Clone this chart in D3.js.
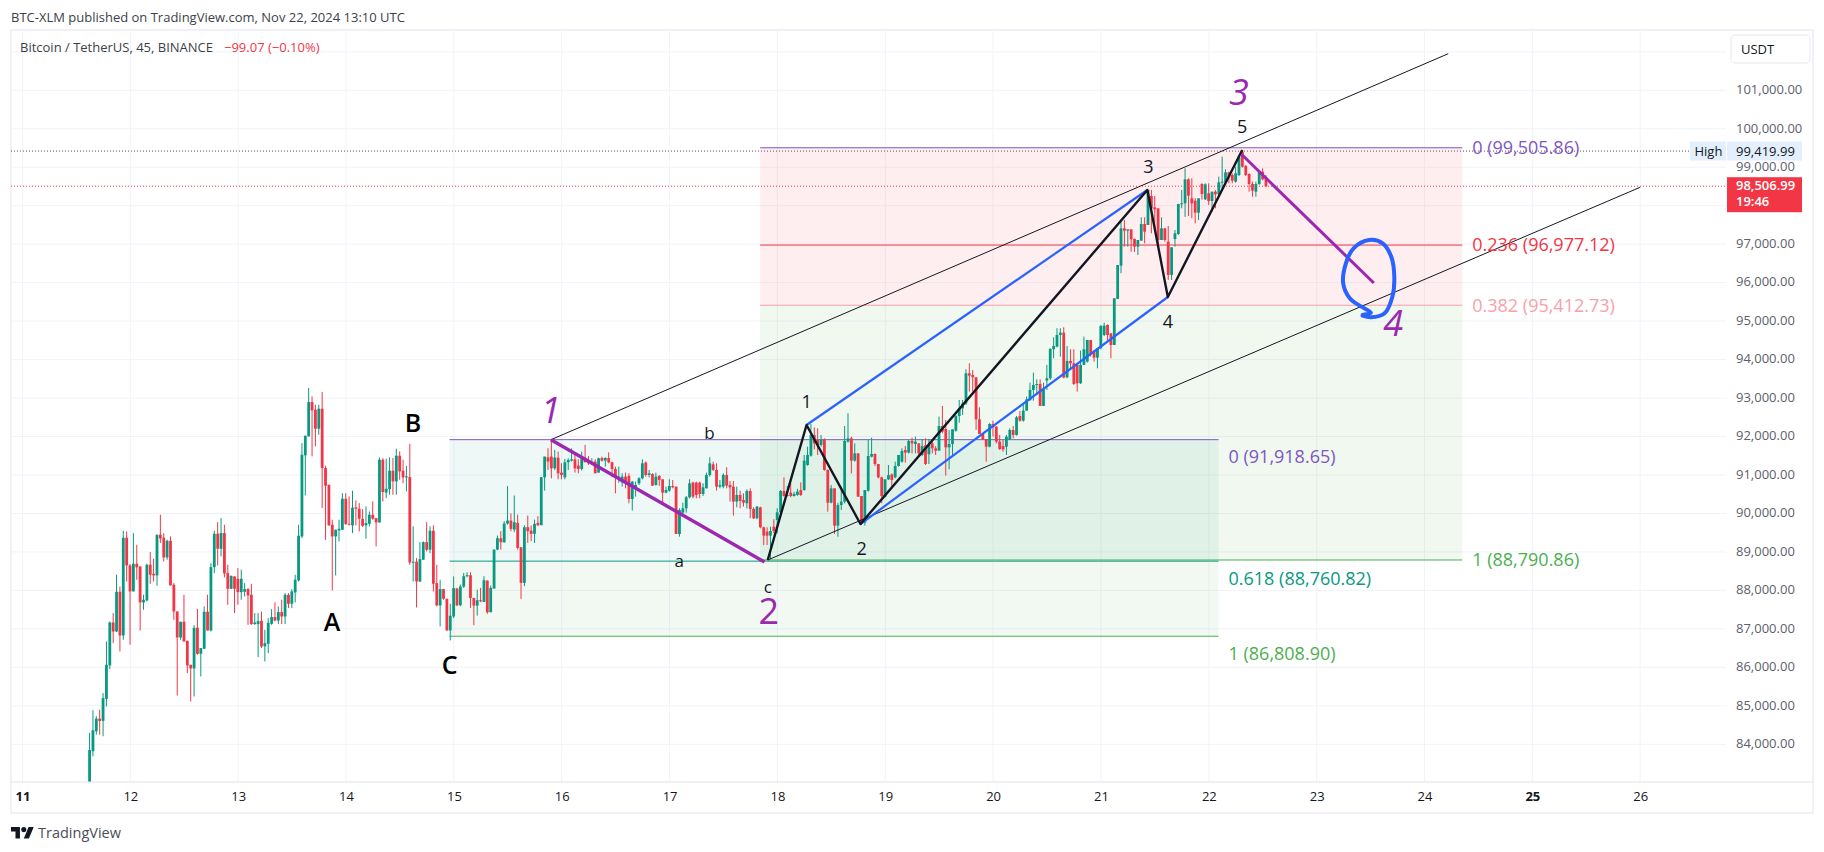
<!DOCTYPE html>
<html>
<head>
<meta charset="utf-8">
<script src="https://cdn.jsdelivr.net/npm/d3@7"></script>
<style>
  html, body { margin: 0; padding: 0; background: #fff; }
  text { font-family: "Open Sans", sans-serif; }
</style>
</head>
<body>
<svg id="chart" width="1824" height="852"></svg>
<script>
const candles = [
  [83000,84300,82900,83850],[83820,84885,83690,84365],[84339,84730,84250,84668],[84668,84897,84250,84607],
  [84610,85330,84210,85200],[85183,86673,84983,86067],[86050,87193,85954,87167],[87167,87410,86630,86933],
  [86933,88407,86916,87965],[87965,88103,86413,86830],[86830,89551,86717,89369],[89369,89533,88233,88650],
  [88650,88684,86587,87974],[87974,89490,87974,88693],[88693,89187,88277,88598],[88624,88624,86959,87688],
  [87688,87887,87497,87757],[87740,88693,87713,88667],[88667,88996,88173,88407],[88433,88823,88233,88390],
  [88390,89447,88121,89447],[89447,89967,89230,89352],[89369,89490,88753,88858],[88858,89317,88797,89291],
  [89291,89404,88130,88130],[88147,88190,87237,87453],[87453,87453,85269,86777],[86777,87185,86717,87185],
  [87185,87887,86673,86673],[86691,86691,85850,86050],[86067,86067,85113,85972],[85972,87098,85243,87029],
  [87029,87523,86327,86353],[86353,86500,85763,86500],[86483,87584,86483,87445],[87445,87887,86959,86959],
  [86959,88710,86933,88606],[88606,89551,88450,89473],[89473,89776,88650,89083],[89083,89880,88884,89490],
  [89490,89707,88338,88441],[88450,88667,87627,88043],[88043,88381,88034,88381],[88364,88364,87410,88043],
  [88303,88580,87627,87956],[87956,88537,87757,88303],[87965,88190,87843,88034],[88034,88060,87107,87870],
  [87887,88173,87107,87124],[87124,87410,87107,87167],[87124,87410,86266,87202],[87211,87453,86500,86544],
  [86544,86977,86153,86630],[86613,87280,86370,87159],[87133,87514,87107,87306],[87306,87688,87193,87219],
  [87219,87584,87124,87436],[87436,87757,87124,87323],[87323,87930,87124,87887],[87887,87930,87540,87653],
  [87653,88034,87540,87974],[87947,88407,87687,88277],[88260,89707,88233,89421],[89404,91830,89360,91527],
  [91510,92021,90470,92021],[92004,93260,92004,92896],[92896,93044,91484,92680],[92697,92827,91744,92203],
  [92203,92827,92047,92723],[92723,93156,90140,91180],[91180,91241,89317,90721],[90747,90747,89690,89690],
  [89707,89837,88000,89404],[89404,89577,88390,89577],[89560,89837,89273,89603],[89577,90530,89577,90383],
  [90383,90530,89707,89724],[89733,90444,89690,89715],[89690,90591,89490,90149],[90158,90340,89690,90123],
  [90123,90270,89534,89863],[89863,90114,89646,89681],[89690,90184,89343,89750],[89733,90054,89664,89967],
  [89967,90314,89837,89863],[89880,89880,89143,89767],[89767,91458,89767,91397],[91397,91440,90314,90556],
  [90547,91423,90400,90643],[90634,91458,90487,91111],[91111,91440,90487,90834],[90834,91683,90487,91501],
  [91501,91614,90877,91094],[91111,91397,90790,90938],[90938,91241,90574,90964],[90946,91813,88667,88728],
  [88728,89664,88233,88745],[88745,88840,87557,88233],[88233,89256,88216,88814],[88797,89273,88797,89256],
  [89256,89776,89014,89057],[89057,89664,88970,89551],[89551,89690,87974,88173],[88190,88667,87584,87610],
  [87610,88277,87064,88034],[88034,88034,87757,87783],[87783,87783,86959,86959],[86959,87653,86700,87341],
  [87323,88364,87280,88060],[88048,88066,87590,87615],[87615,88152,87590,88100],[88100,88456,88065,88369],
  [88369,88473,88340,88395],[88395,88473,87546,87805],[87805,87805,87095,87606],[87606,88022,87346,87745],
  [87745,88066,87693,87727],[87701,88369,87701,88265],[88256,88256,87390,87433],[87433,88126,87433,88066],
  [88048,89062,88048,89062],[89062,89426,89045,89357],[89357,89539,89062,89253],[89253,89799,89235,89738],
  [89738,90709,89712,89816],[89816,90000,89539,89600],[89582,90466,89513,89773],[89756,89972,89062,89106],
  [89123,89123,87779,88196],[88196,89695,88109,89643],[89643,89946,89235,89539],[89556,89686,89279,89470],
  [89470,89842,89235,89730],[89756,89929,89669,89695],[89695,90943,89695,90943],[90940,91478,90594,91478],
  [91460,91694,91131,91348],[91478,91911,90914,91174],[91174,91651,91131,91452],[91452,91608,90888,91044],
  [91062,91304,90888,91001],[90940,91417,90888,91330],[91330,91434,91131,91391],[91374,91694,91348,91408],
  [91408,91590,91062,91174],[91244,91408,91044,91157],[91157,91608,91114,91434],[91452,91781,91330,91330],
  [91391,91495,91261,91304],[91322,91434,91261,91348],[91348,91408,91044,91044],[91062,91452,91062,91434],
  [91443,91478,91348,91374],[91374,91460,91218,91443],[91443,91590,91304,91330],[91330,91348,90940,91157],
  [91157,91218,90524,90932],[90932,91218,90802,90958],[90810,91044,90698,90958],[90958,91062,90654,90802],
  [90975,91044,90264,90377],[90377,90845,90074,90828],[90654,90828,90438,90741],[90784,90940,90741,90914],
  [90914,91408,90888,91304],[91322,91348,90958,91001],[91001,91131,90940,91044],[91027,91044,90715,90724],
  [90741,91062,90724,90958],[90975,91001,90715,90871],[90888,90888,90282,90542],[90542,90698,90524,90611],
  [90594,90888,90568,90715],[90715,90871,90654,90680],[90698,90698,89467,89467],[89467,90134,89398,90091],
  [90022,90282,89918,90134],[90134,90455,90022,90420],[90420,90888,90394,90784],[90802,90828,90394,90438],
  [90802,90828,90394,90481],[90802,90828,90394,90507],[90507,90784,90455,90680],[90654,91062,90654,91001],
  [91001,91460,90958,91304],[91278,91348,91105,91131],[91131,91304,90594,90698],[90698,90871,90654,90741],
  [90698,91044,90654,91001],[91001,91200,90654,90724],[90741,90845,90308,90680],[90698,90845,89944,90308],
  [90308,90698,90160,90481],[90481,90594,90134,90325],[90351,90524,90178,90282],[90264,90628,90134,90585],
  [90585,90654,89874,90117],[90117,90160,89857,89874],[89874,90195,89848,90178],[90160,90178,89614,89640],
  [89640,89657,89181,89424],[89528,89640,89181,89424],[89424,89657,88817,89545],[89657,89848,89484,89545],
  [89831,90134,89484,90030],[90030,90611,89918,90585],[90585,90940,90438,90455],[90455,90715,90440,90481],
  [90542,90784,90420,90455],[90455,90560,90440,90507],[90481,90640,90460,90568],[90611,90810,90455,90481],
  [90610,91520,90590,91373],[91260,91737,91240,91520],[91503,92326,91477,92040],[92040,92239,91667,91823],
  [91910,92213,91520,91780],[91780,92040,91737,91927],[91927,91953,91113,91130],[91130,91147,90047,90280],
  [90280,90740,90263,90653],[90653,90653,89466,89683],[89683,90280,89397,90220],[90220,90697,90090,90307],
  [90307,92274,90263,91884],[91867,92603,91841,91953],[91953,91997,91043,91373],[91373,91823,91347,91563],
  [91563,91563,90437,90437],[90454,90454,89700,89760],[89760,90610,89683,90610],[90593,91910,90567,91494],
  [91477,91970,91459,91546],[91546,91563,91234,91286],[91286,91286,90913,90939],[90939,90957,90263,90454],
  [90437,90887,90419,90887],[90887,91260,90870,90997],[91017,91043,90653,90870],[90939,91347,90913,91234],
  [91234,91520,91217,91520],[91347,91693,91321,91624],[91650,91754,91321,91581],[91581,91910,91563,91884],
  [91884,91970,91563,91823],[91806,91997,91563,91867],[91823,91823,91520,91563],[91520,91936,91493,91754],
  [91771,91953,91260,91286],[91537,91936,91286,91780],[91823,91867,91563,91693],[91693,91754,91520,91632],
  [91632,92517,91632,92274],[92274,92794,92083,92127],[92196,92430,90983,91719],[91719,92170,91147,91806],
  [91806,92187,91520,92187],[92153,92560,92127,92534],[92534,92950,92361,92733],[92733,92950,92560,92863],
  [92863,93747,92820,93643],[93643,93903,93167,93583],[93600,93730,93167,93539],[93539,93539,92170,92447],
  [92447,92759,92066,92066],[92066,92080,91910,91927],[91927,91940,91347,91737],[91737,92343,91719,92326],
  [92326,92413,92000,92239],[92257,92270,91823,91867],[91867,92040,91650,91676],[91754,91910,91607,91667],
  [91737,92040,91520,91997],[91927,92213,91910,92170],[92170,92274,91953,92040],[92040,92534,92023,92499],
  [92534,92664,92387,92413],[92413,92820,92387,92673],[92673,93037,92673,92967],[92950,93401,92924,93210],
  [93210,93661,92933,93340],[93340,93487,93080,93366],[93367,93487,92795,92795],[92795,93400,92794,93228],
  [93453,93861,93211,93514],[93514,94294,93471,94277],[94268,94580,94034,94354],[94337,94814,94320,94640],
  [94640,94814,94077,94701],[94701,94840,93514,93532],[93540,94354,93514,93965],[93965,94268,93731,93904],
  [93904,94268,93341,93367],[93861,93861,93168,93384],[93384,94233,93367,93861],[93861,94597,93861,94268],
  [93947,94510,93921,94510],[94510,94510,94080,94147],[94207,94251,93947,94051],[94051,94294,93774,94294],
  [94294,94900,94270,94874],[94640,94961,94614,94883],[94900,94915,94510,94640],[94684,94684,94034,94380],
  [94380,95593,94380,95593],[95576,96459,95576,96459],[96442,97646,96243,97412],[97412,97629,96936,97352],
  [97352,97386,96936,97386],[97386,97386,96806,97126],[97135,97150,96800,96936],[96936,97109,96719,97109],
  [97092,97698,97092,97525],[97525,97698,97022,97326],[97499,98409,97499,98409],[98253,98409,97282,97932],
  [97958,98253,97369,97906],[97932,97932,96936,97109],[97109,97698,97109,97412],[97412,97412,97066,97109],
  [97066,97473,96070,96200],[96200,96919,96070,96919],[97135,97369,96936,97282],[97265,98045,97240,98045],
  [98036,98409,97932,98062],[98062,98972,97710,98686],[98686,98712,97733,98261],[98192,98712,97672,98062],
  [98131,98192,97542,97819],[97819,98192,97629,98192],[98564,98582,98160,98305],[98166,98582,98149,98556],
  [98322,98582,98019,98123],[98123,98365,97845,98365],[98365,98408,97932,98296],[98296,98755,98280,98608],
  [98608,99275,98452,98625],[98608,98946,98600,98868],[98868,98885,98582,98755],[98798,98842,98582,98650],
  [98625,99015,98600,98842],[98798,99318,98770,99275],[99405,99420,98990,99015],[99032,99058,98770,98798],
  [98824,98842,98365,98564],[98564,98625,98235,98391],[98365,98625,98235,98564],[98564,98928,98540,98885],
  [98885,98972,98660,98686],[98738,98798,98480,98507]
];
const firstBarDay = 11.622;
const lastBarDay = 22.53;

const dayTicks = [11, 12, 13, 14, 15, 16, 17, 18, 19, 20, 21, 22, 23, 24, 25, 26];
const boldDays = [11, 25];
// 98,000 sits behind the last price tag, so it only gets a grid line
const priceTicks = [84000, 85000, 86000, 87000, 88000, 89000, 90000, 91000, 92000, 93000, 94000, 95000, 96000, 97000, 99000, 100000, 101000];
const priceGrid = priceTicks.concat([98000, 102000]);

const highPrice = 99419.99;
const lastPrice = 98506.99;
const countdown = '19:46';

// drawn lines: [day, price] anchors
const channelTop = [[15.90, 91918], [24.22, 101951]];
const channelBottom = [[17.91, 88790], [26.0, 98479]];
const waveDown = [[15.90, 91918], [17.88, 88740]];
const waveNext = [[22.30, 99344], [23.53, 95991]];
const impulse = [[17.91, 88790], [18.27, 92300], [18.77, 89726], [21.43, 98408], [21.62, 95627], [22.31, 99448]];
const blueTop = [[18.27, 92300], [21.43, 98408]];
const blueBottom = [[18.77, 89726], [21.62, 95627]];
const targetLoop = [[23.426, 95159], [23.503, 95219], [23.415, 95375], [23.307, 95593], [23.246, 95983], [23.271, 96503],
  [23.342, 96893], [23.487, 97109], [23.612, 97023], [23.692, 96675], [23.72, 96155], [23.702, 95635], [23.63, 95203], [23.503, 95099], [23.426, 95141]];

// fib retracements
const fibLeftDays = [14.96, 22.09];
const fibLeft = [
  { level: '0', price: 91918.65, color: '#7e57c2' },
  { level: '0.618', price: 88760.82, color: '#089981' },
  { level: '1', price: 86808.90, color: '#4caf50' }
];
const fibRightDays = [17.84, 24.35];
const fibRight = [
  { level: '0', price: 99505.86, color: '#7e57c2' },
  { level: '0.236', price: 96977.12, color: '#f23645' },
  { level: '0.382', price: 95412.73, color: '#f7a1a8' },
  { level: '1', price: 88790.86, color: '#4caf50' }
];

const waveLabels = [['1', 15.897, 92690, true], ['2', 17.92, 87470, false], ['3', 22.28, 100955, true], ['4', 23.71, 94944, true]];
const abcLabels = [['A', 13.87, 87190], ['B', 14.62, 92360], ['C', 14.96, 86065]];
const countLabels = [['1', 18.27, 92910], ['2', 18.78, 89080], ['3', 21.44, 99007], ['4', 21.62, 94986], ['5', 22.31, 100046]];
const smallLabels = [['a', 17.09, 88774], ['b', 17.37, 92093], ['c', 17.91, 88097]];

const plot = { left: 11, right: 1726, top: 30, bottom: 782 };
const green = '#089981', red = '#f23645', ink = '#131722';

const xScale = d3.scaleLinear().domain([11, 26]).range([22.5, 1640.2]);
const yScale = d3.scaleLinear().domain([84000, 101000]).range([744.3, 90.3]);
const fmt = d3.format(',.2f');

const svg = d3.select('#chart').attr('font-family', '"Open Sans", sans-serif');
svg.append('clipPath').attr('id', 'plot-clip').append('rect')
  .attr('x', plot.left).attr('y', plot.top)
  .attr('width', plot.right - plot.left).attr('height', plot.bottom - plot.top);

// header + frame
svg.append('text').attr('x', 11).attr('y', 22).attr('font-size', 13).attr('fill', '#3c3f49')
  .text('BTC-XLM published on TradingView.com, Nov 22, 2024 13:10 UTC');
svg.append('rect').attr('x', 11).attr('y', 30).attr('width', 1802).attr('height', 783)
  .attr('fill', 'none').attr('stroke', '#f0f0f6').attr('stroke-width', 2);

// grid
const grid = svg.append('g');
grid.selectAll('line.h').data(priceGrid).join('line').attr('class', 'h')
  .attr('x1', plot.left).attr('x2', plot.right)
  .attr('y1', d => yScale(d)).attr('y2', d => yScale(d))
  .attr('stroke', '#f0f3fa');
grid.selectAll('line.v').data(dayTicks).join('line').attr('class', 'v')
  .attr('x1', d => xScale(d)).attr('x2', d => xScale(d))
  .attr('y1', plot.top).attr('y2', plot.bottom)
  .attr('stroke', '#f0f3fa');

// fib fills and lines
function drawFib(levels, days, bands) {
  const g = svg.append('g');
  const x0 = xScale(days[0]), x1 = xScale(days[1]);
  d3.pairs(levels).forEach(([a, b], i) => {
    g.append('rect').attr('x', x0).attr('width', x1 - x0)
      .attr('y', yScale(a.price)).attr('height', yScale(b.price) - yScale(a.price))
      .attr('fill', bands[i]);
  });
  g.selectAll('line').data(levels).join('line')
    .attr('x1', x0).attr('x2', x1)
    .attr('y1', d => yScale(d.price)).attr('y2', d => yScale(d.price))
    .attr('stroke', d => d.color).attr('stroke-width', 1);
}
drawFib(fibLeft, fibLeftDays, ['rgba(8,153,129,0.07)', 'rgba(76,175,80,0.07)']);
drawFib(fibRight, fibRightDays, ['rgba(242,54,69,0.085)', 'rgba(242,54,69,0.085)', 'rgba(76,175,80,0.085)']);

// dotted price lines
svg.append('line').attr('x1', plot.left).attr('x2', 1690)
  .attr('y1', yScale(highPrice)).attr('y2', yScale(highPrice))
  .attr('stroke', '#555').attr('stroke-dasharray', '1 2');
svg.append('line').attr('x1', plot.left).attr('x2', plot.right)
  .attr('y1', yScale(lastPrice)).attr('y2', yScale(lastPrice))
  .attr('stroke', red).attr('stroke-dasharray', '1 2');

// candles
const barDay = d3.scaleLinear().domain([0, candles.length - 1]).range([firstBarDay, lastBarDay]);
const bars = svg.append('g').attr('clip-path', 'url(#plot-clip)');
bars.selectAll('line').data(candles).join('line')
  .attr('x1', (d, i) => xScale(barDay(i))).attr('x2', (d, i) => xScale(barDay(i)))
  .attr('y1', d => yScale(d[1])).attr('y2', d => yScale(d[2]))
  .attr('stroke', d => d[3] >= d[0] ? green : red);
bars.selectAll('rect').data(candles).join('rect')
  .attr('x', (d, i) => xScale(barDay(i)) - 1.4).attr('width', 2.8)
  .attr('y', d => yScale(Math.max(d[0], d[3])))
  .attr('height', d => Math.max(1, Math.abs(yScale(d[0]) - yScale(d[3]))))
  .attr('fill', d => d[3] >= d[0] ? green : red);

// trend lines + wave drawings
const line = d3.line().x(d => xScale(d[0])).y(d => yScale(d[1]));
function drawLine(points, color, width) {
  svg.append('path').attr('d', line(points)).attr('fill', 'none')
    .attr('stroke', color).attr('stroke-width', width).attr('stroke-linejoin', 'round');
}
drawLine(channelTop, '#131722', 1);
drawLine(channelBottom, '#131722', 1);
drawLine(blueTop, '#2962ff', 2.2);
drawLine(blueBottom, '#2962ff', 2.2);
drawLine(impulse, '#131722', 2.4);
drawLine(waveDown, '#9c27b0', 3.4);
drawLine(waveNext, '#9c27b0', 3);
svg.append('path').attr('d', d3.line().x(d => xScale(d[0])).y(d => yScale(d[1])).curve(d3.curveCatmullRom)(targetLoop))
  .attr('fill', 'none').attr('stroke', '#2962ff').attr('stroke-width', 4).attr('stroke-linecap', 'round');

// fib labels
svg.append('g').selectAll('text').data(fibRight).join('text')
  .attr('x', xScale(fibRightDays[1]) + 10).attr('y', d => yScale(d.price))
  .attr('dy', '0.35em').attr('font-size', 18).attr('fill', d => d.color)
  .text(d => `${d.level} (${fmt(d.price)})`);
// left fib text sits below its line
svg.append('g').selectAll('text').data(fibLeft).join('text')
  .attr('x', xScale(fibLeftDays[1]) + 10).attr('y', d => yScale(d.price) + 17.5)
  .attr('dy', '0.35em').attr('font-size', 18).attr('fill', d => d.color)
  .text(d => `${d.level} (${fmt(d.price)})`);

// annotations
function annotate(rows, size, color, weight) {
  svg.append('g').selectAll('text').data(rows).join('text')
    .attr('x', d => xScale(d[1])).attr('y', d => yScale(d[2]))
    .attr('text-anchor', 'middle').attr('dy', '0.36em')
    .attr('font-size', size).attr('font-weight', weight).attr('fill', color)
    .attr('font-style', d => d[3] ? 'italic' : 'normal')
    .text(d => d[0]);
}
annotate(waveLabels, 36, '#9c27b0', 400);
annotate(abcLabels, 25, '#000', 600);
annotate(countLabels, 18, ink, 400);
annotate(smallLabels, 17, ink, 400);

// axes
svg.append('line').attr('x1', plot.left).attr('x2', 1813).attr('y1', plot.bottom).attr('y2', plot.bottom).attr('stroke', '#e0e3eb');
const xAxis = d3.axisBottom(xScale).tickValues(dayTicks).tickSize(0).tickPadding(0).tickFormat(d3.format('d'));
const xg = svg.append('g').attr('transform', `translate(0, ${plot.bottom + 10})`).call(xAxis);
xg.select('.domain').remove();
xg.selectAll('text').attr('font-size', 13).attr('font-family', '"Open Sans", sans-serif').attr('fill', ink)
  .attr('font-weight', d => boldDays.includes(d) ? 700 : 400);

const yAxis = d3.axisRight(yScale).tickValues(priceTicks).tickSize(0).tickPadding(0).tickFormat(fmt);
const yg = svg.append('g').attr('transform', 'translate(1736, 0)').call(yAxis);
yg.select('.domain').remove();
yg.selectAll('text').attr('font-size', 13).attr('font-family', '"Open Sans", sans-serif').attr('fill', '#5d606b').attr('dy', '0.25em');

// price tags
const highY = yScale(highPrice);
svg.append('rect').attr('x', 1690).attr('y', highY - 9.5).attr('width', 36).attr('height', 19).attr('fill', '#e3effd');
svg.append('rect').attr('x', 1727).attr('y', highY - 9.5).attr('width', 75).attr('height', 19).attr('fill', '#e3effd');
svg.append('text').attr('x', 1694.5).attr('y', highY).attr('dy', '0.35em').attr('font-size', 13).attr('fill', ink).text('High');
svg.append('text').attr('x', 1736).attr('y', highY).attr('dy', '0.35em').attr('font-size', 13).attr('fill', ink).text(fmt(highPrice));

const lastY = yScale(lastPrice);
svg.append('rect').attr('x', 1727).attr('y', lastY - 9).attr('width', 75).attr('height', 35).attr('fill', red);
svg.append('text').attr('x', 1736).attr('y', lastY - 1).attr('dy', '0.35em').attr('font-size', 13).attr('font-weight', 600).attr('fill', '#fff').text(fmt(lastPrice));
svg.append('text').attr('x', 1736).attr('y', lastY + 15).attr('dy', '0.35em').attr('font-size', 13).attr('font-weight', 600).attr('fill', '#fff').text(countdown);

// currency button
svg.append('rect').attr('x', 1731).attr('y', 35).attr('width', 79).attr('height', 28).attr('rx', 4)
  .attr('fill', '#fff').attr('stroke', '#eef0f5').attr('stroke-width', 1.5);
svg.append('text').attr('x', 1741).attr('y', 49).attr('dy', '0.35em').attr('font-size', 13).attr('fill', ink).text('USDT');

// legend
svg.append('text').attr('x', 20).attr('y', 47).attr('dy', '0.35em').attr('font-size', 13).attr('fill', '#3c3f49').text('Bitcoin / TetherUS, 45, BINANCE');
svg.append('text').attr('x', 224).attr('y', 47).attr('dy', '0.35em').attr('font-size', 13).attr('fill', red).text('\u221299.07 (\u22120.10%)');

// logo
const logo = svg.append('g').attr('transform', 'translate(11, 824.5) scale(0.64)').attr('fill', ink);
logo.append('path').attr('d', 'M14 22H7V11H0V4h14v18zM28 22h-8l7.5-18h8L28 22z');
logo.append('circle').attr('cx', 20).attr('cy', 8).attr('r', 4);
svg.append('text').attr('x', 38).attr('y', 838).attr('font-size', 14.5).attr('fill', '#4a4d57').text('TradingView');
</script>
</body>
</html>
